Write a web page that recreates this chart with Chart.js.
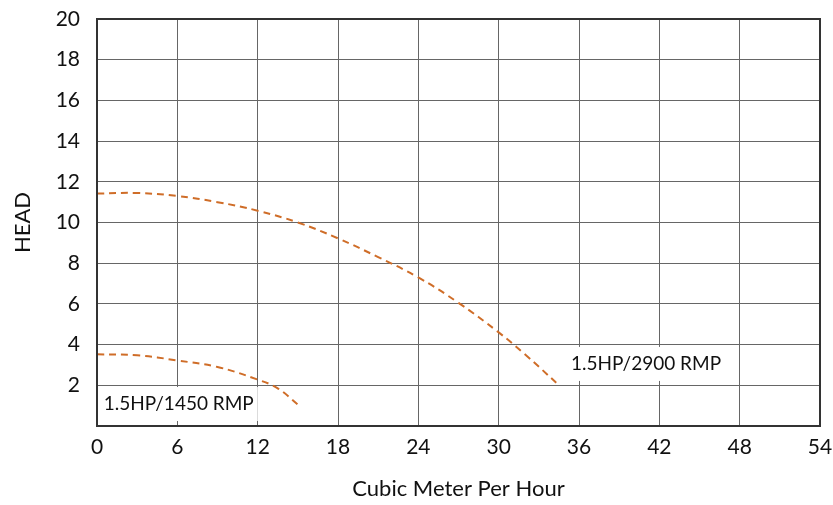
<!DOCTYPE html>
<html>
<head>
<meta charset="utf-8">
<script src="https://cdn.jsdelivr.net/npm/chart.js@4.4.1/dist/chart.umd.min.js"></script>
<style>
  html, body { margin: 0; padding: 0; background: #fff; }
  #wrap { width: 833px; height: 505px; }
</style>
</head>
<body>
<div id="wrap"><canvas id="pumpChart" width="833" height="505"></canvas></div>
<script>
// flow (m3/h) and head
var flow2900 = [0, 3, 6, 9, 12, 15, 18, 21, 24, 27, 30, 32, 34.3];
var head2900 = [11.42, 11.45, 11.3, 11.0, 10.58, 10.0, 9.22, 8.3, 7.3, 6.05, 4.6, 3.5, 2.13];
var flow1450 = [0, 3, 6, 9, 12, 13.5, 15.1];
var head1450 = [3.52, 3.48, 3.22, 2.9, 2.28, 1.85, 1.0];
var curveNames = ['1.5HP/2900 RMP', '1.5HP/1450 RMP'];
var xTicks = [0, 6, 12, 18, 24, 30, 36, 42, 48, 54];
var yTicks = [0, 2, 4, 6, 8, 10, 12, 14, 16, 18, 20];

var curveColor = '#cf6d28';
var fontFam = 'Lato, "Open Sans", sans-serif';

function toPoints(xs, ys) {
    var pts = [];
    for (var i = 0; i < xs.length; i++) {
        pts.push({ x: xs[i], y: ys[i] });
    }
    return pts;
}

// curve name boxes, anchored at data coords (left edge, vertical middle)
var curveLabels = [
    { text: curveNames[0], x: 35.4, y: 3.05 },
    { text: curveNames[1], x: 0.5, y: 1.08 }
];

var labelPlugin = {
    id: 'curveLabels',
    beforeDatasetsDraw: function (chart) {
        var ctx = chart.ctx;
        var xs = chart.scales.x, ys = chart.scales.y;
        ctx.save();
        ctx.font = '19px ' + fontFam;
        ctx.textBaseline = 'middle';
        curveLabels.forEach(function (lb) {
            var px = xs.getPixelForValue(lb.x);
            var py = ys.getPixelForValue(lb.y);
            var w = ctx.measureText(lb.text).width;
            ctx.fillStyle = '#fff';
            ctx.fillRect(px - 6, py - 17, w + 10, 34);
            ctx.fillStyle = '#111';
            ctx.fillText(lb.text, px, py);
        });
        ctx.restore();
    }
};

var ctx = document.getElementById('pumpChart').getContext('2d');
var myChart = new Chart(ctx, {
    type: 'scatter',
    data: {
        datasets: [{
            label: curveNames[0],
            data: toPoints(flow2900, head2900),
            showLine: true,
            borderColor: curveColor,
            borderWidth: 2,
            borderDash: [7, 5],
            pointRadius: 0,
            tension: 0.4
        }, {
            label: curveNames[1],
            data: toPoints(flow1450, head1450),
            showLine: true,
            borderColor: curveColor,
            borderWidth: 2,
            borderDash: [7, 5],
            pointRadius: 0,
            tension: 0.4
        }]
    },
    options: {
        responsive: false,
        animation: false,
        devicePixelRatio: 1,
        layout: { padding: { top: 19, right: 13, left: 0, bottom: 0 } },
        plugins: {
            legend: { display: false },
            tooltip: { enabled: false }
        },
        scales: {
            x: {
                type: 'linear',
                min: 0,
                max: 54,
                afterBuildTicks: function (scale) {
                    scale.ticks = xTicks.map(function (v) { return { value: v }; });
                },
                afterFit: function (scale) {
                    scale.height = 79;
                    scale.paddingLeft = 0;
                    scale.paddingRight = 0;
                },
                grid: { color: '#666', lineWidth: 1, drawTicks: false },
                border: { color: '#333', width: 2 },
                ticks: {
                    padding: 9,
                    color: '#111',
                    font: { family: fontFam, size: 21 },
                    maxRotation: 0
                },
                title: {
                    display: true,
                    text: 'Cubic Meter Per Hour',
                    color: '#111',
                    font: { family: fontFam, size: 22 },
                    padding: { top: 3, bottom: 3 }
                }
            },
            y: {
                min: 0,
                max: 20,
                afterBuildTicks: function (scale) {
                    scale.ticks = yTicks.map(function (v) { return { value: v }; });
                },
                afterFit: function (scale) {
                    scale.width = 97;
                    scale.paddingTop = 0;
                    scale.paddingBottom = 0;
                },
                grid: { color: '#666', lineWidth: 1, drawTicks: false },
                border: { color: '#333', width: 2 },
                ticks: {
                    padding: 17,
                    color: '#111',
                    font: { family: fontFam, size: 21 },
                    callback: function (v) { return v === 0 ? '' : v; }
                },
                title: {
                    display: true,
                    text: 'HEAD',
                    color: '#111',
                    font: { family: fontFam, size: 22 },
                    padding: { top: 10, bottom: 0 }
                }
            }
        }
    },
    plugins: [labelPlugin, {
        id: 'outerBox',
        afterDraw: function (chart) {
            var a = chart.chartArea, c = chart.ctx;
            c.save();
            c.strokeStyle = '#333';
            c.lineWidth = 2;
            c.strokeRect(a.left, a.top, a.right - a.left, a.bottom - a.top);
            c.restore();
        }
    }]
});
</script>
</body>
</html>
